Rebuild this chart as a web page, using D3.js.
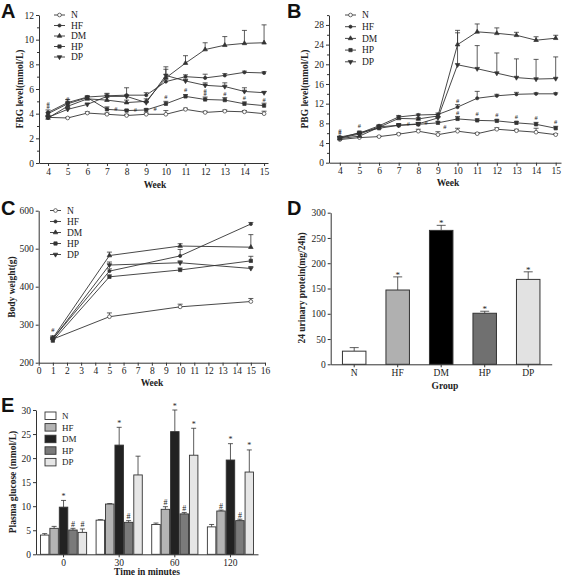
<!DOCTYPE html>
<html><head><meta charset="utf-8">
<script src="https://cdn.jsdelivr.net/npm/d3@7/dist/d3.min.js"></script>
<style>
html,body{margin:0;padding:0;background:#fff;}
svg text{font-family:"Liberation Serif","Times New Roman",serif;fill:#222;}
.tick text{font-size:9.5px;}
.letter{font-family:"Liberation Sans",Arial,sans-serif !important;font-weight:bold;font-size:20px;fill:#111;}
.albl{font-weight:bold;font-size:9.5px;}
</style></head><body>
<svg id="c" width="567" height="578"></svg>
<script>
// ---------------- DATA ----------------
const seriesNames = ["N","HF","DM","HP","DP"];
const weeksAB = [4,5,6,7,8,9,10,11,12,13,14,15];

// Panel A: FBG level (mmol/L)
const A_N  = [3.7,3.65,4.05,3.95,3.85,3.95,3.95,4.35,4.1,4.2,4.15,4.0];
const A_HF = [4.1,4.9,5.35,5.45,5.5,5.5,6.6,7.0,6.9,7.1,7.35,7.3];
const A_DM = [3.65,4.6,5.2,5.1,4.9,5.0,6.9,8.1,9.2,9.55,9.7,9.75];
const A_HP = [4.0,4.8,5.3,4.35,4.25,4.3,4.8,5.4,5.15,5.1,4.8,4.65];
const A_DP = [3.7,4.35,4.75,5.4,5.4,4.9,7.1,6.65,6.3,6.2,5.8,5.7];
const A_N_err  = [0.1,0.05,0.1,0.1,0.1,0.1,0.3,0.1,0.1,0.1,0.1,0.2];
const A_HF_err = [0.2,0.25,0.1,0.2,0.6,0.2,0.3,0.15,0.3,0.15,0.1,0.1];
const A_DM_err = [0.2,0.3,0.2,0.2,0.2,0.2,0.9,0.6,0.55,0.7,1.05,1.45];
const A_HP_err = [0.1,0.2,0.1,0.2,0.1,0.1,0.2,0.15,0.2,0.2,0.15,0.2];
const A_DP_err = [0.1,0.2,0.1,0.2,0.1,0.1,0.5,0.15,0.2,0.3,0.3,0.1];
const A_hash = [[4,4.35],[4,4.6],[5,5.05],[7.45,4.25],[8.45,4.15],[9.45,4.2],[10,5.15],[11,5.75],[12,5.45],[12,5.7],[13,5.4],[14,5.1],[15,4.95]];

// Panel B: PBG level (mmol/L)
const B_N  = [4.7,5.1,5.3,5.8,6.4,5.7,6.4,5.9,6.8,6.5,6.2,5.7];
const B_HF = [5.2,6.0,7.5,9.3,9.7,9.8,11.3,13.1,13.6,13.9,14.0,14.0];
const B_DM = [4.9,5.4,7.2,9.0,8.9,9.5,24.0,26.6,26.3,25.9,24.9,25.3];
const B_HP = [5.0,6.1,7.0,7.6,7.8,8.1,8.9,8.6,8.5,8.1,7.8,7.0];
const B_DP = [5.0,5.8,7.3,7.6,7.9,9.1,19.9,19.1,18.2,17.3,17.0,17.1];
const B_N_err  = [0.2,0.2,0.1,0.2,0.4,0.6,0.6,0.2,0.3,0.3,0.8,0.2];
const B_HF_err = [0.2,0.2,0.2,0.3,0.2,0.3,0.5,1.4,0.3,0.4,0.2,0.2];
const B_DM_err = [0.3,0.4,0.3,0.3,0.3,0.3,2.9,1.6,1.1,0.6,0.7,0.6];
const B_HP_err = [0.3,0.3,0.3,0.3,0.3,0.3,0.5,0.3,0.3,0.3,0.4,0.4];
const B_DP_err = [0.3,0.3,0.3,0.3,0.3,0.3,6.5,4.7,4.1,3.8,4.0,4.4];
const B_hash = [[4,5.6],[4,6.1],[5,7.0],[7.5,7.4],[8,8.4],[8.4,7.7],[9.35,6.8],[10,12.1],[10,9.6],[11,9.4],[12,9.3],[13,8.9],[14,8.6],[15,7.8]];

// Panel C: Body weight (g)
const weeksC = [1,5,10,15];
const C_N  = [262,321,347,361];
const C_HF = [263,441,481,565];
const C_DM = [265,482,507,504];
const C_HP = [258,426,444,468];
const C_DP = [262,457,463,448];
const C_N_err  = [8,10,7,8];
const C_HF_err = [4,6,17,4];
const C_DM_err = [5,9,6,33];
const C_HP_err = [4,5,5,12];
const C_DP_err = [4,8,5,5];
const C_hash = [[1,281]];

// Panel D: 24h urinary protein
const D_values = [26,147,265,101,168];
const D_err    = [7,26,10,4,15];
const D_marks  = ["","*","*","*","*"];

// Panel E: Plasma glucose (OGTT)
const E_times = ["0","30","60","120"];
const E_N  = [4.0,7.1,6.2,5.7];
const E_HF = [5.4,10.45,9.35,9.0];
const E_DM = [9.8,22.7,25.5,19.6];
const E_HP = [5.05,6.65,8.4,7.0];
const E_DP = [4.56,16.5,20.6,17.1];
const E_N_err  = [0.3,0.1,0.3,0.5];
const E_HF_err = [0.4,0.1,0.55,0.2];
const E_DM_err = [1.4,3.7,4.5,3.4];
const E_HP_err = [0.35,0.35,0.3,0.3];
const E_DP_err = [0.7,3.9,5.6,4.6];
const E_N_marks  = ["","","",""];
const E_HF_marks = ["","","#","#"];
const E_DM_marks = ["*","*","*","*"];
const E_HP_marks = ["#","#","#","#"];
const E_DP_marks = ["#","","*","*"];

// ---------------- DRAW ----------------
const svg = d3.select("#c");
svg.append("rect").attr("width",567).attr("height",578).attr("fill","#fff");
const INK = "#333";

const symbols = {
  N:  {type:d3.symbolCircle, size:11, fill:"#fff", rot:0},
  HF: {type:d3.symbolCircle, size:8, fill:INK, rot:0},
  DM: {type:d3.symbolTriangle, size:9, fill:INK, rot:0},
  HP: {type:d3.symbolSquare, size:11, fill:INK, rot:0},
  DP: {type:d3.symbolTriangle, size:9, fill:INK, rot:180}
};
function drawSym(g, name, cx, cy){
  const s = symbols[name];
  g.append("path").attr("d", d3.symbol(s.type, s.size)())
    .attr("transform",`translate(${cx},${cy}) rotate(${s.rot})`)
    .attr("fill", s.fill).attr("stroke", INK).attr("stroke-width",0.7);
}
function styleAxis(sel){
  sel.selectAll("path.domain").attr("stroke",INK).attr("stroke-width",1);
  sel.selectAll(".tick line").attr("stroke",INK);
  sel.selectAll(".tick text").attr("font-size","9.5px");
}
function errBar(g, x, y0, y1, w){
  g.append("line").attr("x1",x).attr("x2",x).attr("y1",y0).attr("y2",y1).attr("stroke",INK).attr("stroke-width",0.8);
  g.append("line").attr("x1",x-w/2).attr("x2",x+w/2).attr("y1",y1).attr("y2",y1).attr("stroke",INK).attr("stroke-width",0.8);
}

function linePanel(cfg){
  const g = svg.append("g");
  const x = d3.scaleLinear().domain(cfg.xDomain).range([cfg.left,cfg.right]);
  const y = d3.scaleLinear().domain(cfg.yDomain).range([cfg.bottom,cfg.top]);
  const ax = g.append("g").attr("transform",`translate(0,${cfg.bottom})`)
    .call(d3.axisBottom(x).tickValues(cfg.xTicks).tickSize(3).tickSizeOuter(0).tickPadding(2).tickFormat(d3.format("d")));
  styleAxis(ax);
  const ay = g.append("g").attr("transform",`translate(${cfg.left},0)`)
    .call(d3.axisLeft(y).tickValues(cfg.yTicks).tickSize(3).tickSizeOuter(0).tickPadding(2));
  styleAxis(ay);
  if(cfg.yMinor){
    const am = g.append("g").attr("transform",`translate(${cfg.left},0)`)
      .call(d3.axisLeft(y).tickValues(cfg.yMinor).tickSize(2).tickFormat(""));
    am.select("path.domain").remove();
    am.selectAll(".tick line").attr("stroke",INK);
  }
  const line = d3.line().x(d=>x(d[0])).y(d=>y(d[1]));
  cfg.series.forEach(s=>{
    const pts = cfg.xs.map((w,i)=>[w,s.values[i]]);
    g.append("path").attr("d",line(pts)).attr("fill","none").attr("stroke",INK).attr("stroke-width",0.9);
  });
  cfg.series.forEach(s=>{
    cfg.xs.forEach((w,i)=>{
      const v=s.values[i], e=s.err[i];
      if(e>0) errBar(g, x(w), y(v), y(v+e), 5);
    });
  });
  cfg.series.forEach(s=>{
    cfg.xs.forEach((w,i)=> drawSym(g, s.name, x(w), y(s.values[i])));
  });
  cfg.hash.forEach(h=>{
    g.append("text").attr("x",x(h[0])).attr("y",y(h[1])).attr("text-anchor","middle")
      .attr("font-size","6.5px").text("#");
  });
  // legend
  seriesNames.forEach((n,i)=>{
    const ly = cfg.legY + i*cfg.legStep;
    g.append("line").attr("x1",cfg.legX).attr("x2",cfg.legX+11).attr("y1",ly).attr("y2",ly).attr("stroke",INK).attr("stroke-width",0.9);
    drawSym(g, n, cfg.legX+5.5, ly);
    g.append("text").attr("x",cfg.legX+17).attr("y",ly+3.3).attr("font-size","9.5px").text(n);
  });
  // axis labels
  g.append("text").attr("class","albl").attr("text-anchor","middle")
    .attr("x",cfg.xLabelX).attr("y",cfg.xLabelY).text(cfg.xLabel);
  g.append("text").attr("class","albl").attr("text-anchor","middle")
    .attr("transform",`translate(${cfg.yLabelX},${cfg.yLabelY}) rotate(-90)`).text(cfg.yLabel);
  g.append("text").attr("class","letter").attr("x",cfg.letterX).attr("y",cfg.letterY).text(cfg.letter);
}

const mk = (vals, errs) => seriesNames.map((n,i)=>({name:n, values:vals[i], err:errs[i]}));

linePanel({
  letter:"A", letterX:1, letterY:18,
  left:39, right:268, top:15, bottom:163,
  xDomain:[3.54,15.2], yDomain:[0,12],
  xTicks:weeksAB, yTicks:[0,2,4,6,8,10,12], yMinor:[1,3,5,7,9,11],
  xs:weeksAB,
  series: mk([A_N,A_HF,A_DM,A_HP,A_DP],[A_N_err,A_HF_err,A_DM_err,A_HP_err,A_DP_err]),
  hash:A_hash,
  legX:54, legY:15, legStep:10.5,
  xLabel:"Week", xLabelX:155, xLabelY:188,
  yLabel:"FBG level(mmol/L)", yLabelX:23, yLabelY:89
});

linePanel({
  letter:"B", letterX:287, letterY:18,
  left:329, right:561, top:15.1, bottom:162.7,
  xDomain:[3.45,15.27], yDomain:[0,30],
  xTicks:weeksAB, yTicks:[0,4,8,12,16,20,24,28], yMinor:[2,6,10,14,18,22,26,30],
  xs:weeksAB,
  series: mk([B_N,B_HF,B_DM,B_HP,B_DP],[B_N_err,B_HF_err,B_DM_err,B_HP_err,B_DP_err]),
  hash:B_hash,
  legX:345, legY:15, legStep:11.7,
  xLabel:"Week", xLabelX:448, xLabelY:186,
  yLabel:"PBG level(mmol/L)", yLabelX:308, yLabelY:89
});

linePanel({
  letter:"C", letterX:1, letterY:215,
  left:38.7, right:265, top:210.7, bottom:362.7,
  xDomain:[0,16], yDomain:[200,600],
  xTicks:d3.range(0,17), yTicks:[200,300,400,500,600], yMinor:null,
  xs:weeksC,
  series: mk([C_N,C_HF,C_DM,C_HP,C_DP],[C_N_err,C_HF_err,C_DM_err,C_HP_err,C_DP_err]),
  hash:C_hash,
  legX:50, legY:210.5, legStep:11,
  xLabel:"Week", xLabelX:152, xLabelY:386,
  yLabel:"Body weight(g)", yLabelX:15, yLabelY:287
});

// ---- Panel D ----
(function(){
  const g = svg.append("g");
  const left=330.7, right=551.7, top=212.7, bottom=364.3;
  const x = d3.scaleBand().domain(seriesNames).range([left,right]).paddingInner(0.46).paddingOuter(0.27);
  const y = d3.scaleLinear().domain([0,300]).range([bottom,top]);
  const fills = ["#ffffff","#b0b0b0","#000000","#707070","#e2e2e2"];
  const ax = g.append("g").attr("transform",`translate(0,${bottom})`)
    .call(d3.axisBottom(x).tickSize(3).tickSizeOuter(0).tickPadding(2));
  styleAxis(ax);
  const ay = g.append("g").attr("transform",`translate(${left},0)`)
    .call(d3.axisLeft(y).tickValues([0,50,100,150,200,250,300]).tickSize(3).tickSizeOuter(0).tickPadding(2));
  styleAxis(ay);
  seriesNames.forEach((n,i)=>{
    const v=D_values[i], e=D_err[i];
    errBar(g, x(n)+x.bandwidth()/2, y(v), y(v+e), 9);
    g.append("rect").attr("x",x(n)).attr("y",y(v)).attr("width",x.bandwidth()).attr("height",bottom-y(v))
      .attr("fill",fills[i]).attr("stroke",INK).attr("stroke-width",1);
    if(D_marks[i]) g.append("text").attr("x",x(n)+x.bandwidth()/2).attr("y",y(v+e)+1).attr("text-anchor","middle")
      .attr("font-size","9px").text(D_marks[i]);
  });
  g.append("text").attr("class","albl").attr("text-anchor","middle").attr("x",445).attr("y",389).text("Group");
  g.append("text").attr("class","albl").attr("text-anchor","middle")
    .attr("transform",`translate(305,288) rotate(-90)`).text("24 urinary protein(mg/24h)");
  g.append("text").attr("class","letter").attr("x",287).attr("y",215).text("D");
})();

// ---- Panel E ----
(function(){
  const g = svg.append("g");
  const left=36, right=258, top=410, bottom=554.3;
  const x0 = d3.scaleBand().domain(E_times).range([left,right]).paddingInner(0.17).paddingOuter(0.08);
  const x1 = d3.scaleBand().domain(seriesNames).range([0,x0.bandwidth()]).paddingInner(0.1);
  const y = d3.scaleLinear().domain([0,30]).range([bottom,top]);
  const fills = ["#ffffff","#b4b4b4","#222222","#7a7a7a","#e6e6e6"];
  const vals = [E_N,E_HF,E_DM,E_HP,E_DP];
  const errs = [E_N_err,E_HF_err,E_DM_err,E_HP_err,E_DP_err];
  const marks = [E_N_marks,E_HF_marks,E_DM_marks,E_HP_marks,E_DP_marks];
  const ax = g.append("g").attr("transform",`translate(0,${bottom})`)
    .call(d3.axisBottom(x0).tickSize(3).tickSizeOuter(0).tickPadding(2));
  styleAxis(ax);
  const ay = g.append("g").attr("transform",`translate(${left},0)`)
    .call(d3.axisLeft(y).tickValues([0,5,10,15,20,25,30]).tickSize(3).tickSizeOuter(0).tickPadding(2));
  styleAxis(ay);
  E_times.forEach((t,j)=>{
    seriesNames.forEach((n,i)=>{
      const bx = x0(t)+x1(n), bw = x1.bandwidth();
      const v = vals[i][j], e = errs[i][j];
      errBar(g, bx+bw/2, y(v), y(v+e), 5);
      g.append("rect").attr("x",bx).attr("y",y(v)).attr("width",bw).attr("height",bottom-y(v))
        .attr("fill",fills[i]).attr("stroke",INK).attr("stroke-width",0.9);
      const m = marks[i][j];
      if(m) g.append("text").attr("x",bx+bw/2).attr("y",y(v+e)-1.5).attr("text-anchor","middle")
        .attr("font-size","8px").text(m);
    });
  });
  seriesNames.forEach((n,i)=>{
    const ly = 412 + i*11.6;
    g.append("rect").attr("x",45).attr("y",ly).attr("width",11).attr("height",7.5)
      .attr("fill",fills[i]).attr("stroke",INK).attr("stroke-width",0.9);
    g.append("text").attr("x",62).attr("y",ly+7).attr("font-size","9px").text(n);
  });
  g.append("text").attr("class","albl").attr("text-anchor","middle").attr("x",147).attr("y",575).text("Time in minutes");
  g.append("text").attr("class","albl").attr("text-anchor","middle")
    .attr("transform",`translate(16,482) rotate(-90)`).text("Plasma glucose (mmol/L)");
  g.append("text").attr("class","letter").attr("x",1).attr("y",412).text("E");
})();
</script>
</body></html>
